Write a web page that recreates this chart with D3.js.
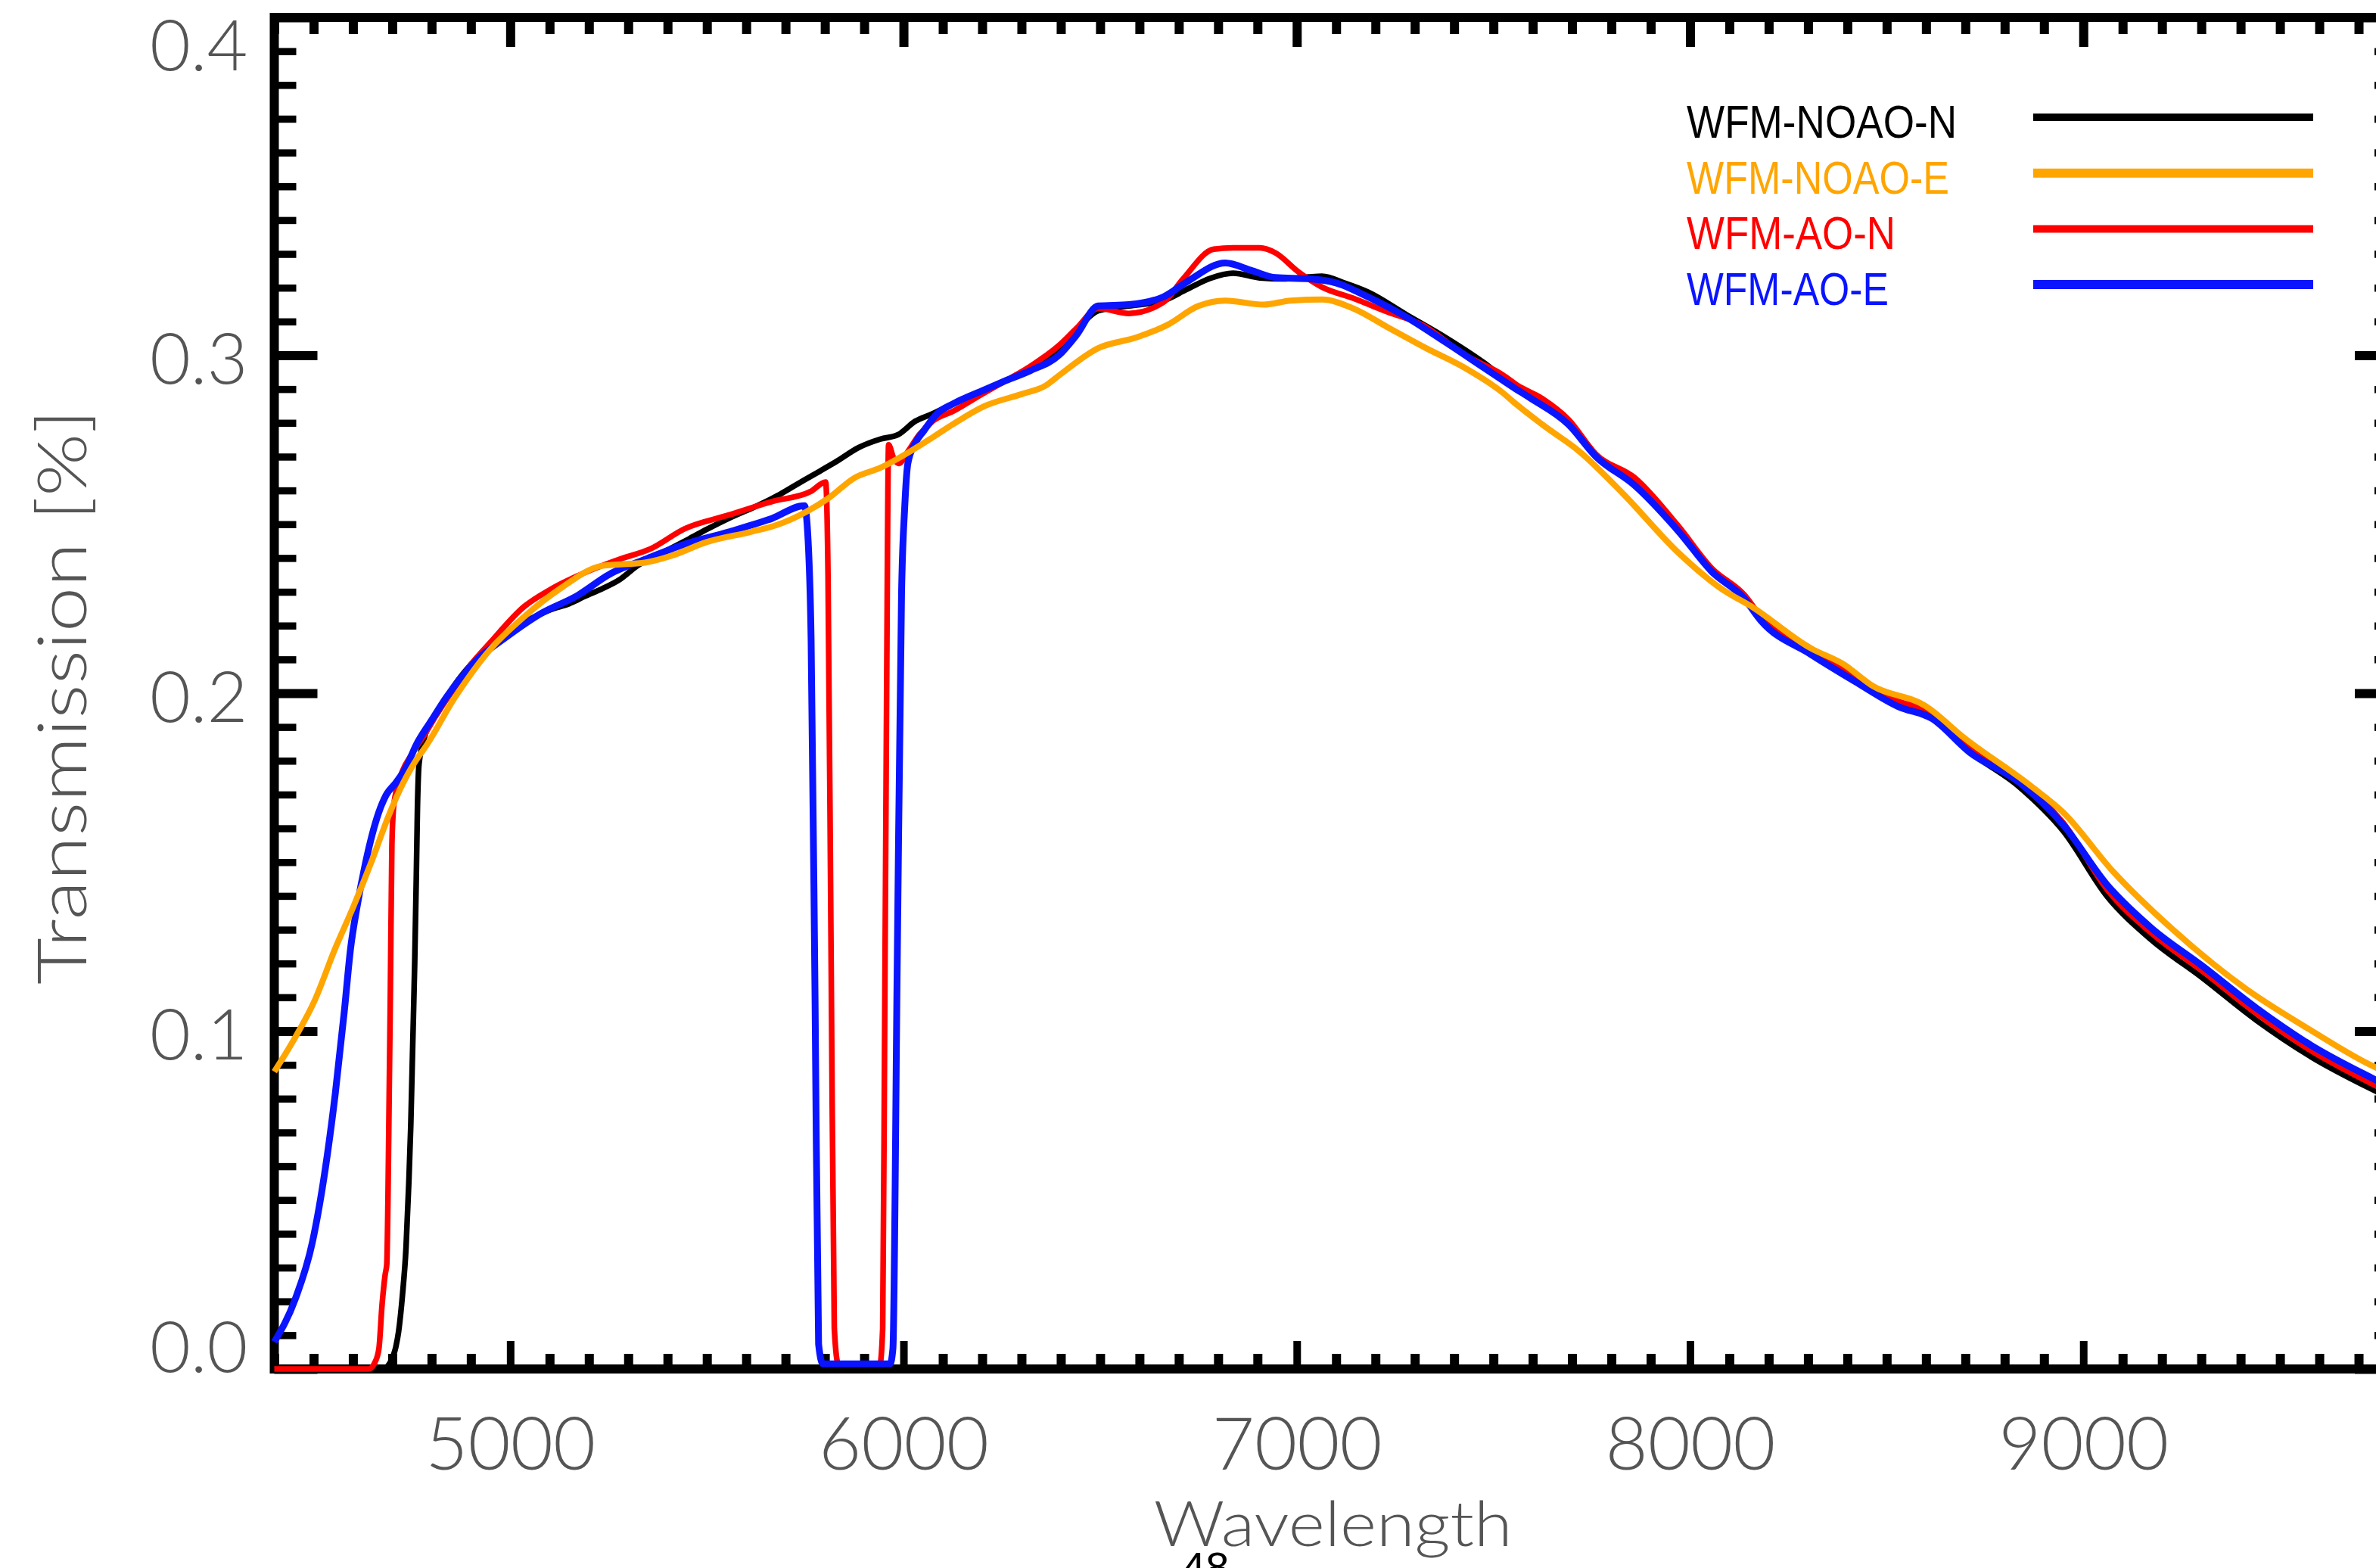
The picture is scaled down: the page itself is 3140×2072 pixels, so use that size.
<!DOCTYPE html>
<html>
<head>
<meta charset="utf-8">
<script src="https://cdn.jsdelivr.net/npm/d3@7"></script>
<style>
  html, body { margin: 0; padding: 0; background: #fff; }
  svg { display: block; }
</style>
</head>
<body>
<svg id="chart" width="3140" height="2072"></svg>
<script>
// Throughput curves of the four wide-field modes: [wavelength (Å), transmission]
const noaoN = [[4400,0],[4675,0],[4695,0.002],[4708,0.006],[4716,0.011],[4726,0.022],[4735,0.036],[4742,0.055],[4747,0.072],[4752,0.096],[4757,0.12],[4761,0.145],[4764,0.166],[4768,0.179],[4782,0.187],[4820,0.195],[4859,0.2025],[4900,0.2085],[4947,0.2137],[5014,0.2197],[5060,0.2225],[5102,0.2247],[5150,0.2265],[5190,0.2287],[5235,0.231],[5279,0.2337],[5323,0.2377],[5389,0.2417],[5455,0.2457],[5500,0.2485],[5555,0.2517],[5632,0.2557],[5680,0.2585],[5720,0.2612],[5787,0.2657],[5831,0.2687],[5886,0.2727],[5941,0.2752],[5986,0.2765],[6030,0.2805],[6074,0.2827],[6127,0.2857],[6200,0.2895],[6260,0.2925],[6323,0.2958],[6396,0.302],[6440,0.3075],[6495,0.3132],[6573,0.3146],[6661,0.3162],[6720,0.3195],[6780,0.3228],[6838,0.3243],[6906,0.3229],[6966,0.3226],[7030,0.3232],[7064,0.3234],[7123,0.3213],[7181,0.3187],[7279,0.312],[7378,0.3053],[7476,0.2978],[7551,0.291],[7624,0.2862],[7691,0.2805],[7761,0.2705],[7859,0.2625],[7970,0.2485],[8055,0.2365],[8138,0.2285],[8180,0.2225],[8307,0.213],[8419,0.2052],[8530,0.1972],[8615,0.1935],[8711,0.1828],[8838,0.1722],[8949,0.1592],[9061,0.1398],[9173,0.127],[9300,0.116],[9440,0.1032],[9579,0.0924],[9744,0.0822],[9800,0.079]];

const noaoE = [[4400,0.088],[4450,0.0975],[4504,0.1094],[4555,0.1245],[4600,0.1365],[4650,0.151],[4690,0.1635],[4728,0.1735],[4767,0.1813],[4782,0.1837],[4859,0.1987],[4947,0.2127],[5036,0.2227],[5124,0.2307],[5234,0.2377],[5345,0.2387],[5411,0.2407],[5499,0.2447],[5610,0.2477],[5676,0.2497],[5753,0.2537],[5809,0.2577],[5875,0.2637],[5941,0.2667],[6019,0.2717],[6074,0.2757],[6127,0.2797],[6207,0.285],[6300,0.2885],[6361,0.291],[6396,0.2941],[6495,0.3021],[6593,0.3053],[6671,0.309],[6750,0.3146],[6818,0.3162],[6916,0.315],[6985,0.3162],[7064,0.3165],[7143,0.3139],[7231,0.3083],[7329,0.3021],[7427,0.2963],[7525,0.2888],[7551,0.2862],[7635,0.2786],[7718,0.2716],[7830,0.259],[7970,0.2416],[8082,0.2307],[8153,0.2259],[8307,0.2133],[8390,0.2086],[8461,0.2024],[8600,0.1961],[8698,0.1867],[8866,0.1726],[8949,0.1647],[9075,0.1473],[9228,0.13],[9411,0.1127],[9579,0.1002],[9744,0.0892],[9800,0.0865]];

const aoN = [[4400,0],[4640,0],[4656,0.002],[4666,0.006],[4674,0.019],[4682,0.028],[4686,0.031],[4689,0.05],[4692,0.08],[4695,0.11],[4699,0.155],[4704,0.167],[4720,0.175],[4750,0.182],[4782,0.1877],[4820,0.195],[4859,0.2017],[4900,0.2085],[4947,0.2147],[5036,0.2257],[5102,0.2307],[5190,0.2357],[5279,0.2397],[5356,0.2427],[5444,0.2487],[5555,0.2527],[5665,0.2567],[5764,0.2597],[5802,0.2625],[5808,0.235],[5816,0.12],[5824,0.012],[5834,0.0015],[5940,0.0015],[5947,0.012],[5952,0.1],[5957,0.2],[5962,0.2735],[5975,0.2695],[5988,0.268],[6011,0.2715],[6040,0.2765],[6074,0.2805],[6127,0.2835],[6200,0.2885],[6260,0.2925],[6323,0.2968],[6396,0.303],[6440,0.308],[6495,0.3139],[6573,0.3124],[6661,0.3157],[6710,0.3225],[6789,0.3314],[6838,0.3318],[6906,0.3318],[6946,0.3303],[7004,0.3247],[7064,0.3202],[7143,0.3169],[7231,0.3128],[7319,0.309],[7427,0.3001],[7525,0.2941],[7560,0.2912],[7624,0.2872],[7691,0.281],[7761,0.2707],[7859,0.2638],[7970,0.2495],[8055,0.237],[8138,0.2291],[8180,0.2228],[8307,0.2133],[8419,0.2055],[8530,0.1976],[8615,0.1945],[8711,0.1835],[8838,0.1741],[8949,0.1616],[9061,0.1418],[9173,0.129],[9300,0.118],[9440,0.1052],[9579,0.0942],[9744,0.0838],[9800,0.0806]];

const aoE = [[4400,0.008],[4453,0.0206],[4497,0.0376],[4530,0.0595],[4555,0.0814],[4578,0.1058],[4594,0.1245],[4610,0.1365],[4632,0.1498],[4665,0.1645],[4684,0.1698],[4709,0.1735],[4735,0.178],[4760,0.1845],[4800,0.192],[4837,0.1987],[4914,0.2097],[4991,0.2167],[5080,0.2237],[5168,0.2287],[5257,0.2355],[5345,0.2397],[5433,0.2437],[5555,0.2477],[5665,0.2517],[5748,0.2555],[5756,0.248],[5765,0.216],[5775,0.11],[5784,0.0074],[5795,0.0015],[5966,0.0015],[5973,0.006],[5984,0.12],[5995,0.2297],[6003,0.255],[6011,0.268],[6030,0.274],[6052,0.2777],[6085,0.2827],[6127,0.2857],[6200,0.2895],[6260,0.2925],[6323,0.2955],[6396,0.3001],[6440,0.306],[6495,0.3146],[6573,0.315],[6661,0.3173],[6720,0.3217],[6818,0.3273],[6887,0.325],[6946,0.323],[7034,0.3226],[7103,0.3213],[7181,0.3173],[7279,0.3113],[7378,0.3039],[7476,0.2963],[7551,0.2905],[7593,0.2874],[7691,0.2795],[7761,0.27],[7859,0.2615],[7970,0.248],[8055,0.236],[8138,0.228],[8180,0.2215],[8307,0.2115],[8419,0.2035],[8530,0.196],[8615,0.1925],[8711,0.1825],[8838,0.1735],[8949,0.161],[9061,0.1432],[9173,0.1305],[9300,0.1195],[9440,0.1068],[9579,0.0958],[9744,0.0855],[9800,0.0822]];

const seriesNames  = ["WFM-NOAO-N", "WFM-NOAO-E", "WFM-AO-N", "WFM-AO-E"];
const seriesData   = [noaoN, noaoE, aoN, aoE];
const seriesColors = ["#000000", "#ffa500", "#ff0000", "#0a14ff"];

const xMajorTicks = [5000, 6000, 7000, 8000, 9000];
const yMajorTicks = [0.0, 0.1, 0.2, 0.3, 0.4];
const yTickLabels = ["0.0", "0.1", "0.2", "0.3", "0.4"];
const xDomain = [4400, 9800];
const yDomain = [0, 0.4];

const svg = d3.select("#chart");
svg.append("rect").attr("width", 3140).attr("height", 2072).attr("fill", "#fff");

const x = d3.scaleLinear().domain(xDomain).range([362.5, 3169]);
const y = d3.scaleLinear().domain(yDomain).range([1809, 23]);

const xMinor = d3.range(4400, 9801, 100).filter(v => v % 1000 !== 0);
const yMinor = d3.range(1, 40).map(i => i / 100).filter(v => Math.round(v * 100) % 10 !== 0);

const labelFont = "Lato, 'DejaVu Sans', sans-serif";
const labelColor = "#555";

function styleAxis(g, width) {
  g.select(".domain").remove();
  g.selectAll(".tick line").attr("stroke", "#000").attr("stroke-width", width);
}

// bottom: minor then major ticks (pointing inward)
const gb = svg.append("g").attr("transform", `translate(0,${y(0)})`);
gb.append("g").call(d3.axisBottom(x).tickValues(xMinor).tickSize(-20).tickFormat(""))
  .call(g => styleAxis(g, 12));
gb.append("g").call(d3.axisBottom(x).tickValues(xMajorTicks).tickSize(-37).tickFormat(d3.format("d")))
  .call(g => styleAxis(g, 10))
  .call(g => g.selectAll(".tick text")
    .attr("y", 133).attr("dy", 0)
    .attr("font-family", labelFont).attr("font-weight", 300)
    .attr("font-size", 97).attr("fill", labelColor));

// top
const gt = svg.append("g").attr("transform", `translate(0,${y(0.4)})`);
gt.append("g").call(d3.axisTop(x).tickValues(xMinor).tickSize(-22).tickFormat("")).call(g => styleAxis(g, 12));
gt.append("g").call(d3.axisTop(x).tickValues(xMajorTicks).tickSize(-39).tickFormat("")).call(g => styleAxis(g, 12));

// left
const gl = svg.append("g").attr("transform", `translate(${x(4400)},0)`);
gl.append("g").call(d3.axisLeft(y).tickValues(yMinor).tickSize(-29).tickFormat("")).call(g => styleAxis(g, 9.5));
gl.append("g").call(d3.axisLeft(y).tickValues(yMajorTicks).tickSize(-57)
    .tickFormat((d, i) => yTickLabels[i]))
  .call(g => styleAxis(g, 12))
  .call(g => g.selectAll(".tick text")
    .attr("x", -35).attr("dy", 0)
    .attr("y", d => d >= 0.4 ? 69 : (d <= 0 ? 3 : 37))
    .attr("text-anchor", "end")
    .attr("font-family", labelFont).attr("font-weight", 300)
    .attr("font-size", 93).attr("fill", labelColor));

// right
const gr = svg.append("g").attr("transform", `translate(${x(9800)},0)`);
gr.append("g").call(d3.axisRight(y).tickValues(yMinor).tickSize(-31).tickFormat("")).call(g => styleAxis(g, 9.5));
gr.append("g").call(d3.axisRight(y).tickValues(yMajorTicks).tickSize(-57).tickFormat("")).call(g => styleAxis(g, 12));

// frame
svg.append("rect")
  .attr("x", x(4400)).attr("y", y(0.4))
  .attr("width", x(9800) - x(4400)).attr("height", y(0) - y(0.4))
  .attr("fill", "none").attr("stroke", "#000").attr("stroke-width", 12);

// axis titles
svg.append("text")
  .attr("x", (x(4400) + x(9800)) / 2 - 4).attr("y", 2043)
  .attr("text-anchor", "middle")
  .attr("font-family", labelFont).attr("font-weight", 300)
  .attr("font-size", 82).attr("fill", labelColor)
  .attr("textLength", 474).attr("lengthAdjust", "spacingAndGlyphs")
  .text("Wavelength");

svg.append("text")
  .attr("transform", `translate(114,${(y(0) + y(0.4)) / 2 + 5}) rotate(-90)`)
  .attr("text-anchor", "middle")
  .attr("font-family", labelFont).attr("font-weight", 300)
  .attr("font-size", 90).attr("fill", labelColor)
  .attr("textLength", 760).attr("lengthAdjust", "spacingAndGlyphs")
  .text("Transmission [%]");

// curves: black, red, blue, orange from bottom to top
const line = d3.line().x(d => x(d[0])).y(d => y(d[1])).curve(d3.curveMonotoneX);
const drawOrder = [0, 2, 3, 1];
const curveWidths = [7.5, 8, 7.5, 9];
svg.append("g").selectAll("path")
  .data(drawOrder)
  .join("path")
  .attr("d", i => line(seriesData[i]))
  .attr("fill", "none")
  .attr("stroke", i => seriesColors[i])
  .attr("stroke-width", i => curveWidths[i])
  .attr("stroke-linejoin", "round");

// legend
const legendWidths = [357, 347, 276, 267];
const legendLineWidths = [10, 12, 10, 12];
const lg = svg.append("g");
seriesNames.forEach((name, i) => {
  const cy = 155 + i * 73.7;
  lg.append("text")
    .attr("x", 2229).attr("y", cy + 27)
    .attr("font-family", "'Liberation Sans', Arial, sans-serif")
    .attr("font-size", 62).attr("fill", seriesColors[i])
    .attr("textLength", legendWidths[i]).attr("lengthAdjust", "spacingAndGlyphs")
    .text(name);
  lg.append("line")
    .attr("x1", 2687).attr("x2", 3057).attr("y1", cy).attr("y2", cy)
    .attr("stroke", seriesColors[i]).attr("stroke-width", legendLineWidths[i]);
});

// page number
svg.append("text")
  .attr("x", 1562).attr("y", 2090)
  .attr("font-family", "'Liberation Sans', Arial, sans-serif")
  .attr("font-size", 56).attr("fill", "#000")
  .text("48");
</script>
</body>
</html>
